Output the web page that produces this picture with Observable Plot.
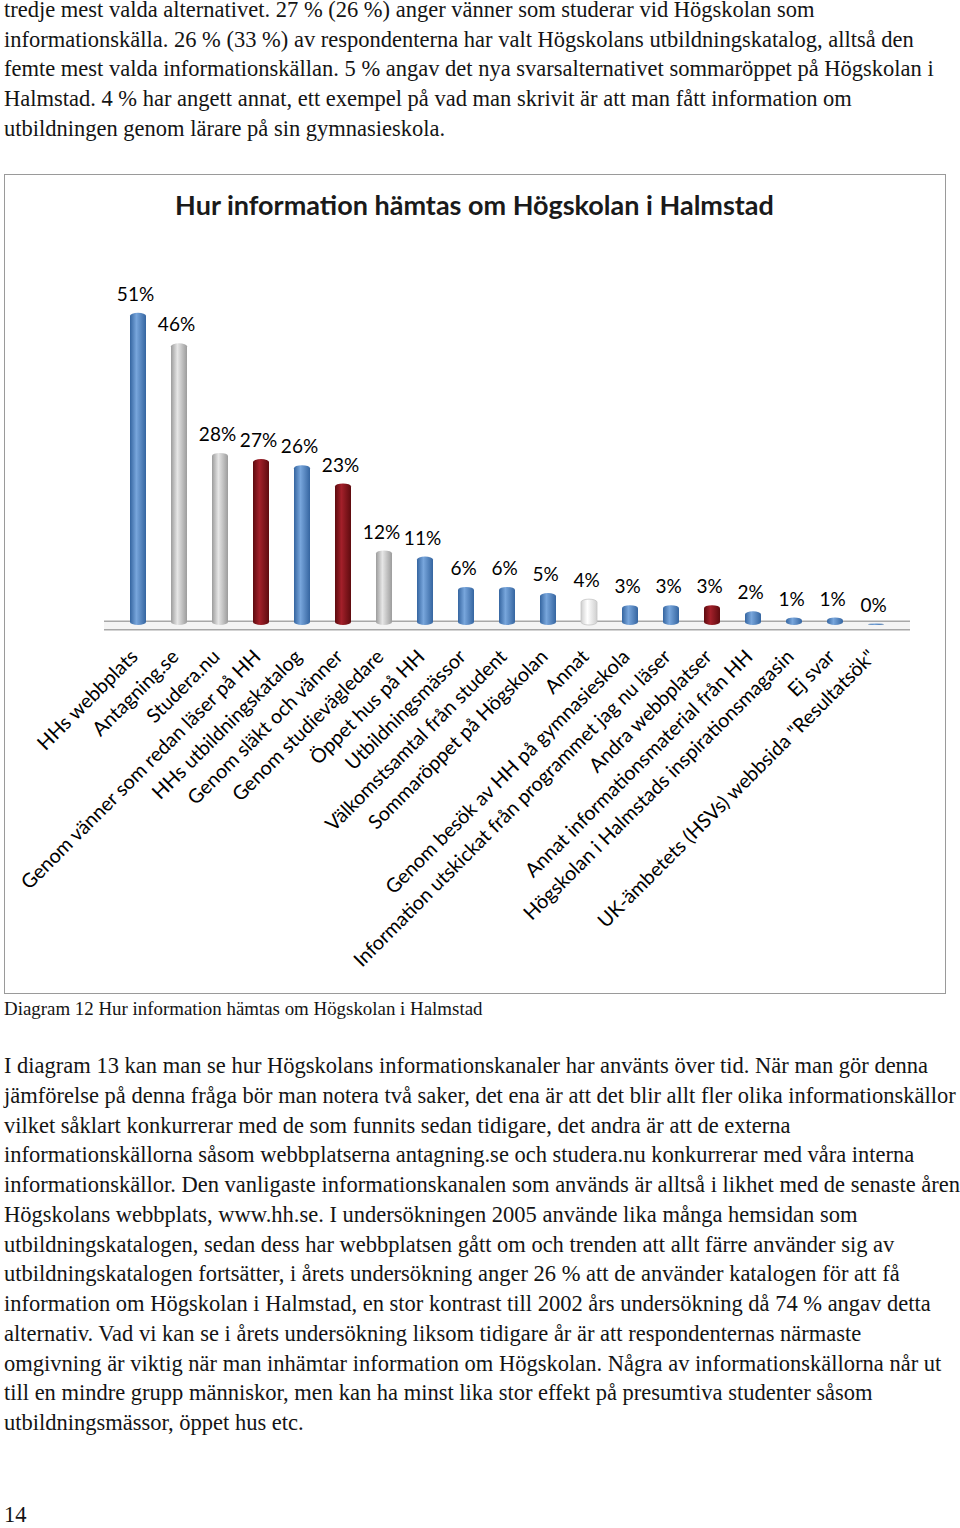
<!DOCTYPE html>
<html><head><meta charset="utf-8">
<script src="https://cdn.jsdelivr.net/npm/d3@7"></script>
<script src="https://cdn.jsdelivr.net/npm/@observablehq/plot@0.6"></script>
<style>
html,body{margin:0;padding:0;background:#fff}
body{width:960px;height:1528px;position:relative;overflow:hidden}
.txt{position:absolute;left:4px;font-family:"Liberation Serif","Times New Roman",serif;color:#141414;white-space:nowrap}
.txt div{white-space:nowrap}
#box{position:absolute;left:4px;top:174px;width:940px;height:818px;border:1.5px solid #9a9a9a;box-sizing:content-box}
#title{position:absolute;left:4px;top:188px;width:941px;text-align:center;font-family:Lato,"Open Sans",sans-serif;font-weight:bold;font-size:27px;color:#1a1a1a;line-height:34px}
#chart{position:absolute;left:4px;top:240px}
</style></head><body>

<div class="txt" id="top" style="top:-5px;font-size:22.5px;line-height:29.7px">
<div>tredje mest valda alternativet. 27 % (26 %) anger vänner som studerar vid Högskolan som</div>
<div>informationskälla. 26 % (33 %) av respondenterna har valt Högskolans utbildningskatalog, alltså den</div>
<div>femte mest valda informationskällan. 5 % angav det nya svarsalternativet sommaröppet på Högskolan i</div>
<div>Halmstad. 4 % har angett annat, ett exempel på vad man skrivit är att man fått information om</div>
<div>utbildningen genom lärare på sin gymnasieskola.</div>
</div>

<div id="box"></div>
<div id="title">Hur information hämtas om Högskolan i Halmstad</div>
<div id="chart"></div>

<div class="txt" style="top:998px;font-size:18.9px;line-height:22px">Diagram 12 Hur information hämtas om Högskolan i Halmstad</div>

<div class="txt" id="bottom" style="top:1051px;font-size:22.5px;line-height:29.75px">
<div>I diagram 13 kan man se hur Högskolans informationskanaler har använts över tid. När man gör denna</div>
<div>jämförelse på denna fråga bör man notera två saker, det ena är att det blir allt fler olika informationskällor</div>
<div>vilket såklart konkurrerar med de som funnits sedan tidigare, det andra är att de externa</div>
<div>informationskällorna såsom webbplatserna antagning.se och studera.nu konkurrerar med våra interna</div>
<div>informationskällor. Den vanligaste informationskanalen som används är alltså i likhet med de senaste åren</div>
<div>Högskolans webbplats, www.hh.se. I undersökningen 2005 använde lika många hemsidan som</div>
<div>utbildningskatalogen, sedan dess har webbplatsen gått om och trenden att allt färre använder sig av</div>
<div>utbildningskatalogen fortsätter, i årets undersökning anger 26 % att de använder katalogen för att få</div>
<div>information om Högskolan i Halmstad, en stor kontrast till 2002 års undersökning då 74 % angav detta</div>
<div>alternativ. Vad vi kan se i årets undersökning liksom tidigare år är att respondenternas närmaste</div>
<div>omgivning är viktig när man inhämtar information om Högskolan. Några av informationskällorna når ut</div>
<div>till en mindre grupp människor, men kan ha minst lika stor effekt på presumtiva studenter såsom</div>
<div>utbildningsmässor, öppet hus etc.</div>
</div>

<div class="txt" style="top:1500px;font-size:22.5px;line-height:30px">14</div>

<script>
const categories = [
  "HHs webbplats",
  "Antagning.se",
  "Studera.nu",
  "Genom vänner som redan läser på HH",
  "HHs utbildningskatalog",
  "Genom släkt och vänner",
  "Genom studievägledare",
  "Öppet hus på HH",
  "Utbildningsmässor",
  "Välkomstsamtal från student",
  "Sommaröppet på Högskolan",
  "Annat",
  "Genom besök av HH på gymnasieskola",
  "Information utskickat från programmet jag nu läser",
  "Andra webbplatser",
  "Annat informationsmaterial från HH",
  "Högskolan i Halmstads inspirationsmagasin",
  "Ej svar",
  "UK-ämbetets (HSVs) webbsida \"Resultatsök\""
];
const values = [51, 46, 28, 27, 26, 23, 12, 11, 6, 6, 5, 4, 3, 3, 3, 2, 1, 1, 0];
const groups = ["blue","gray","gray","red","blue","red","gray","blue","blue","blue","blue","white","blue","blue","red","blue","blue","blue","blue"];
const gradients = [
  ["gBlue", "#3565a0", "#78a6dc"],
  ["gGray", "#9c9c9c", "#e6e6e6"],
  ["gRed", "#5e0b0f", "#a3202a"],
  ["gWhite", "#cfcfcf", "#ffffff"]
];
const gradOf = {blue: "url(#gBlue)", gray: "url(#gGray)", red: "url(#gRed)", white: "url(#gWhite)"};

const data = categories.map((c, i) => ({cat: c, value: values[i], group: groups[i]}));

const barMarks = Object.keys(gradOf).map(g =>
  Plot.barY(data.filter(d => d.group === g), {
    x: "cat", y: "value", fill: gradOf[g],
    stroke: g === "white" ? "#c4c4c4" : "none", strokeWidth: 0.8,
    rx: 8, ry: 3, insetTop: -1.5
  })
);

const chart = Plot.plot({
  width: 941,
  height: 750,
  marginLeft: 100,
  marginRight: 35,
  marginTop: 50,
  marginBottom: 365,
  style: {fontFamily: "Lato, 'Open Sans', sans-serif", color: "#000", background: "transparent"},
  x: {domain: categories, padding: 0.6, label: null},
  y: {domain: [0, 55], axis: null},
  marks: [
    Plot.ruleY([0], {stroke: "#a8a8a8", strokeWidth: 10}),
    Plot.ruleY([0], {stroke: "#f4f4f4", strokeWidth: 7}),
    ...barMarks,
    Plot.text(data, {x: "cat", y: "value", text: d => d.value + "%", dy: -20, dx: -3, fontSize: 19, fill: "#000"}),
    Plot.axisX({tickRotate: -45, tickSize: 0, tickPadding: 28, dx: -4, fontSize: 19.8, fill: "#000", label: null})
  ]
});

const svg = d3.select(chart);
const defs = svg.insert("defs", ":first-child");
for (const [id, edge, mid] of gradients) {
  const g = defs.append("linearGradient").attr("id", id)
    .attr("x1", "0").attr("x2", "1").attr("y1", "0").attr("y2", "0");
  g.append("stop").attr("offset", "0%").attr("stop-color", edge);
  g.append("stop").attr("offset", "40%").attr("stop-color", mid);
  g.append("stop").attr("offset", "100%").attr("stop-color", edge);
}
document.getElementById("chart").appendChild(chart);
</script>
</body></html>
